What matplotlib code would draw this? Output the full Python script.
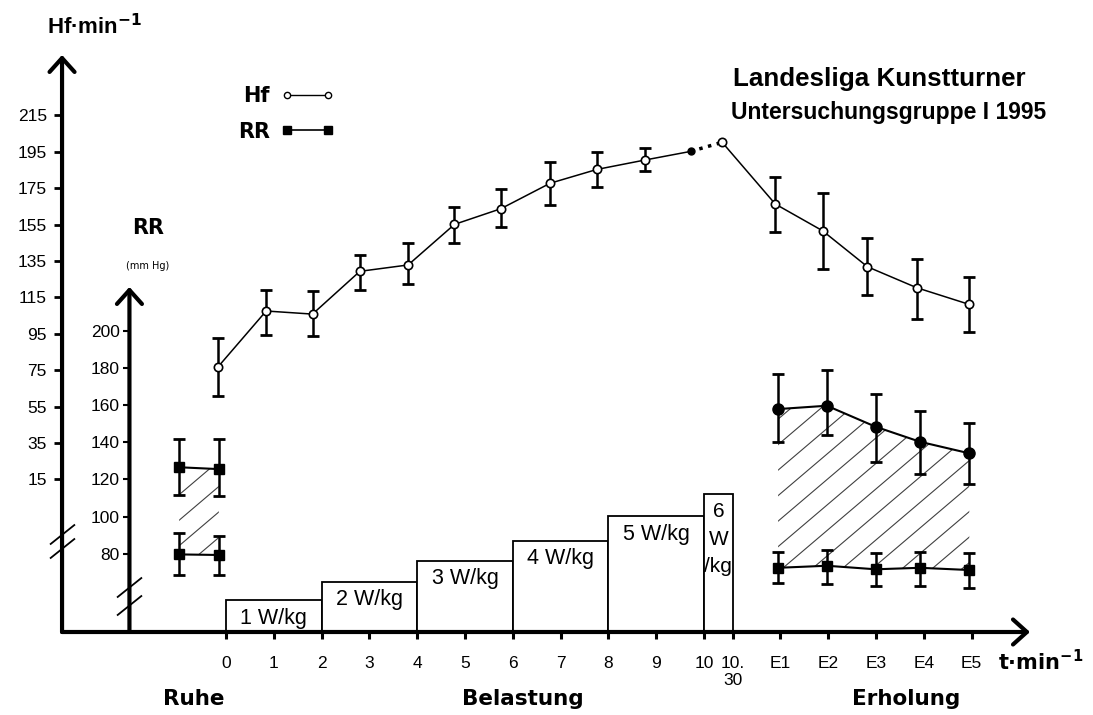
import numpy as np
import matplotlib.pyplot as plt
from matplotlib.lines import Line2D

plt.rcParams['font.family'] = ['Liberation Sans', 'DejaVu Sans']

# ---- values ----
# time axis: exercise minutes, the 10:30 end point, recovery E1..E5
time_ticks = [0, 1, 2, 3, 4, 5, 6, 7, 8, 9, 10, 10.6, 11.6, 12.6, 13.6, 14.6, 15.6]
time_labels = ['0', '1', '2', '3', '4', '5', '6', '7', '8', '9', '10', '10.\n30',
               'E1', 'E2', 'E3', 'E4', 'E5']

# heart rate Hf (1/min), rest + exercise
hf_x = [-0.17, 0.84, 1.81, 2.80, 3.81, 4.78, 5.75, 6.78, 7.76, 8.77]
hf_mean = [76.7, 107.5, 105.8, 129.3, 132.8, 155.1, 163.7, 177.7, 185.3, 190.5]
hf_top = [92.6, 119.0, 118.5, 138.1, 144.9, 164.5, 174.4, 189.2, 194.7, 197.1]
hf_bottom = [60.9, 94.3, 93.8, 119.0, 122.2, 145.0, 153.8, 165.6, 175.6, 184.2]
# last exercise minute and the 10:30 peak (no error bars)
hf_end_x = [9.72, 10.38]
hf_end = [195.2, 200.2]
# recovery
hf_rec_x = [11.49, 12.48, 13.42, 14.45, 15.54]
hf_rec = [166.3, 151.6, 131.8, 120.3, 111.2]
hf_rec_top = [181.3, 172.3, 147.6, 136.2, 126.3]
hf_rec_bottom = [151.1, 130.4, 116.3, 102.9, 96.1]

# blood pressure RR (mm Hg), systolic / diastolic
rr_rest_x = [-0.98, -0.15]
rr_rest_sys = [126.5, 125.5]
rr_rest_sys_top = [141.5, 141.5]
rr_rest_sys_bottom = [111.6, 111.0]
rr_rest_dia = [79.6, 79.3]
rr_rest_dia_top = [90.9, 89.6]
rr_rest_dia_bottom = [68.5, 68.5]

rr_rec_x = [11.55, 12.57, 13.59, 14.52, 15.55]
rr_rec_sys = [157.8, 159.6, 148.3, 140.2, 134.0]
rr_rec_sys_top = [176.7, 178.8, 165.9, 156.9, 150.5]
rr_rec_sys_bottom = [140.2, 143.8, 129.5, 122.9, 117.5]
rr_rec_dia = [72.4, 73.5, 71.6, 72.4, 71.2]
rr_rec_dia_top = [81.0, 82.0, 80.2, 81.0, 80.2]
rr_rec_dia_bottom = [64.0, 63.7, 62.6, 62.8, 61.7]

# workload steps (W/kg)
load_start = [0, 2, 4, 6, 8, 10]
load_len = [2, 2, 2, 2, 2, 0.6]
load_level = [1.39, 2.19, 3.09, 3.96, 5.04, 6.0]
load_labels = ['1 W/kg', '2 W/kg', '3 W/kg', '4 W/kg', '5 W/kg', '6\nW\n/kg']

hf_ticks = list(range(15, 216, 20))
rr_ticks = list(range(80, 201, 20))

# ---- layout ----
W, H = 1093, 715
fig = plt.figure(figsize=(W / 100, H / 100), dpi=100)
fig.patch.set_facecolor('white')

ax_load = fig.add_axes([0, 0, 1, 1])
ax = ax_load.twinx()      # Hf scale
ax_rr = ax_load.twinx()   # RR scale

XLIM = (-4.728, 18.138)
HF_AXIS_X, RR_AXIS_X, X_END = -3.43, -2.02, 16.82
HF_BASE, HF_TOP = -68.9, 248.2
RR_BASE, RR_TOP = 37.85, 223.5

for a in (ax_load, ax, ax_rr):
    for s in a.spines.values():
        s.set_visible(False)
    a.set_autoscale_on(False)

ax_load.set_xlim(*XLIM)
ax_load.set_ylim(-83 / 23, 632 / 23)
ax.set_ylim(-114.5, 278.4)
ax_rr.set_ylim(-6.8, 377.9)

tick_font = dict(family='Liberation Sans', size=12.5)
bold = dict(family='DejaVu Sans', weight='bold')
arrow = dict(arrowstyle='->,head_length=0.5,head_width=0.45', lw=3, color='k',
             mutation_scale=20, shrinkA=0, shrinkB=0)


def err(mid, lo, hi):
    mid, lo, hi = map(np.asarray, (mid, lo, hi))
    return [mid - lo, hi - mid]


def hatch(axis, region, spacing=0.30, slope=0.85):
    # sparse diagonal hatch clipped to the region between the RR lines
    path = region.get_paths()[0]
    for x0 in np.arange(-11, 11, spacing):
        ln, = axis.plot([x0, x0 + 11], [0, slope * 11], color='0.25', lw=0.8,
                        transform=fig.dpi_scale_trans, zorder=1)
        ln.set_clip_path(path, region.get_transform())


# time axis with arrow
ax_load.spines['bottom'].set_position(('data', 0))
ax_load.set_xticks(time_ticks, time_labels)
ax_load.tick_params(axis='x', direction='out', length=5, width=2.2, pad=12)
for lbl in ax_load.get_xticklabels():
    lbl.set(**tick_font)
ax_load.set_yticks([])
ax_load.annotate('', xy=(X_END, 0), xytext=(HF_AXIS_X, 0), arrowprops=arrow, zorder=5)

# workload bars
bars = ax_load.bar(load_start, load_level, width=load_len, align='edge',
                   facecolor='white', edgecolor='k', lw=1.3, zorder=1)
for b, lab in zip(bars, load_labels):
    cx = b.get_x() + b.get_width() / 2
    if '\n' in lab:
        t = ax_load.annotate(lab, (cx, b.get_height()), xytext=(0, -6),
                             textcoords='offset points', ha='center', va='top',
                             linespacing=1.55, family='Liberation Sans', size=15)
    else:
        t = ax_load.annotate(lab, (cx, b.get_height()), xytext=(0, -13),
                             textcoords='offset points', ha='center', va='center',
                             family='Liberation Sans', size=15.5)
    t.set_clip_path(b)

# Hf axis
ax.yaxis.tick_left()
ax.spines['left'].set_position(('data', HF_AXIS_X))
ax.set_yticks(hf_ticks)
ax.tick_params(axis='y', direction='out', length=6, width=2, pad=5)
for lbl in ax.get_yticklabels():
    lbl.set(**tick_font)
ax.annotate('', xy=(HF_AXIS_X, HF_TOP), xytext=(HF_AXIS_X, HF_BASE), arrowprops=arrow)
brk = [(-1, -0.8), (1, 0.8)]
ax.plot([HF_AXIS_X, HF_AXIS_X], [-15.1, -22.8], ls='none', marker=brk,
        ms=18, mec='k', mew=1.3)

# Hf data
ebar = dict(fmt='none', ecolor='k', elinewidth=1.8, capsize=4.5, capthick=2, zorder=2)
ax.errorbar(hf_x, hf_mean, yerr=err(hf_mean, hf_bottom, hf_top), **ebar)
ax.errorbar(hf_rec_x, hf_rec, yerr=err(hf_rec, hf_rec_bottom, hf_rec_top), **ebar)
ax.plot(hf_x + hf_end_x[:1], hf_mean + hf_end[:1], color='k', lw=1.1, zorder=3)
ax.plot(hf_end_x, hf_end, color='k', lw=2.5, ls=(0, (1, 1.6)), zorder=3)
ax.plot(hf_end_x[1:] + hf_rec_x, hf_end[1:] + hf_rec, color='k', lw=1.1, zorder=3)
open_mk = dict(ls='none', marker='o', ms=6, mfc='white', mec='k', mew=1.2, zorder=4)
ax.plot(hf_x, hf_mean, **open_mk)
ax.plot(hf_rec_x, hf_rec, **open_mk)
ax.plot(hf_end_x[1:], hf_end[1:], **open_mk)
ax.plot(hf_end_x[:1], hf_end[:1], ls='none', marker='o', ms=5, color='k', zorder=4)

# RR axis
ax_rr.yaxis.tick_left()
ax_rr.spines['left'].set_position(('data', RR_AXIS_X))
ax_rr.set_yticks(rr_ticks)
ax_rr.tick_params(axis='y', direction='out', length=4, width=1.5, pad=3)
for lbl in ax_rr.get_yticklabels():
    lbl.set(**tick_font)
ax_rr.annotate('', xy=(RR_AXIS_X, RR_TOP), xytext=(RR_AXIS_X, RR_BASE), arrowprops=arrow)
ax_rr.plot([RR_AXIS_X, RR_AXIS_X], [62.1, 52.4], ls='none', marker=brk,
           ms=18, mec='k', mew=1.3)

# RR data
for xs, sys_, sys_t, sys_b, dia, dia_t, dia_b, sys_mk in [
        (rr_rest_x, rr_rest_sys, rr_rest_sys_top, rr_rest_sys_bottom,
         rr_rest_dia, rr_rest_dia_top, rr_rest_dia_bottom, 's'),
        (rr_rec_x, rr_rec_sys, rr_rec_sys_top, rr_rec_sys_bottom,
         rr_rec_dia, rr_rec_dia_top, rr_rec_dia_bottom, 'o')]:
    region = ax_rr.fill_between(xs, dia, sys_, facecolor='none', edgecolor='none')
    hatch(ax_rr, region)
    ax_rr.errorbar(xs, sys_, yerr=err(sys_, sys_b, sys_t), **ebar)
    ax_rr.errorbar(xs, dia, yerr=err(dia, dia_b, dia_t), **ebar)
    ax_rr.plot(xs, sys_, color='k', lw=1.5, marker=sys_mk, ms=8 if sys_mk == 'o' else 7,
               zorder=4)
    ax_rr.plot(xs, dia, color='k', lw=1.5, marker='s', ms=7, zorder=4)

# legend
handles = [Line2D([], [], color='k', lw=1, marker='o', ms=4.5, mfc='white', mec='k'),
           Line2D([], [], color='k', lw=1.2, marker='s', ms=6, mfc='k', mec='k')]
ax_rr.legend(handles, ['Hf', 'RR'], markerfirst=False, numpoints=2, frameon=False,
             prop=dict(family='DejaVu Sans', weight='bold', size=15),
             handlelength=2.6, handletextpad=0.5, labelspacing=0.75,
             borderpad=0, borderaxespad=0, loc='upper left',
             bbox_to_anchor=(238 / W, 1 - 86 / H), bbox_transform=fig.transFigure)

# texts
fig.text(47 / W, 1 - 27 / H, 'Hf\u00b7min' + r'$^{\mathbf{-1}}$', ha='left', va='center',
         size=16, family='Liberation Sans', weight='bold')
fig.text(148 / W, 1 - 228 / H, 'RR', ha='center', va='center', size=15, **bold)
fig.text(148 / W, 1 - 266 / H, '(mm Hg)', ha='center', va='center', size=7,
         family='DejaVu Sans')
fig.text(733 / W, 1 - 79 / H, 'Landesliga Kunstturner', ha='left', va='center',
         size=18.7, family='Liberation Sans', weight='bold')
fig.text(731 / W, 1 - 112 / H, 'Untersuchungsgruppe I 1995', ha='left', va='center',
         size=16.5, family='Liberation Sans', weight='bold')
fig.text(998 / W, 1 - 662 / H, 't\u00b7min' + r'$^{\mathbf{-1}}$', ha='left',
         va='center', size=15, **bold)
for label, cx in [('Ruhe', 194), ('Belastung', 523), ('Erholung', 906)]:
    fig.text(cx / W, 1 - 699 / H, label, ha='center', va='center', size=15.5, **bold)

fig.savefig('out.png', dpi=100)
